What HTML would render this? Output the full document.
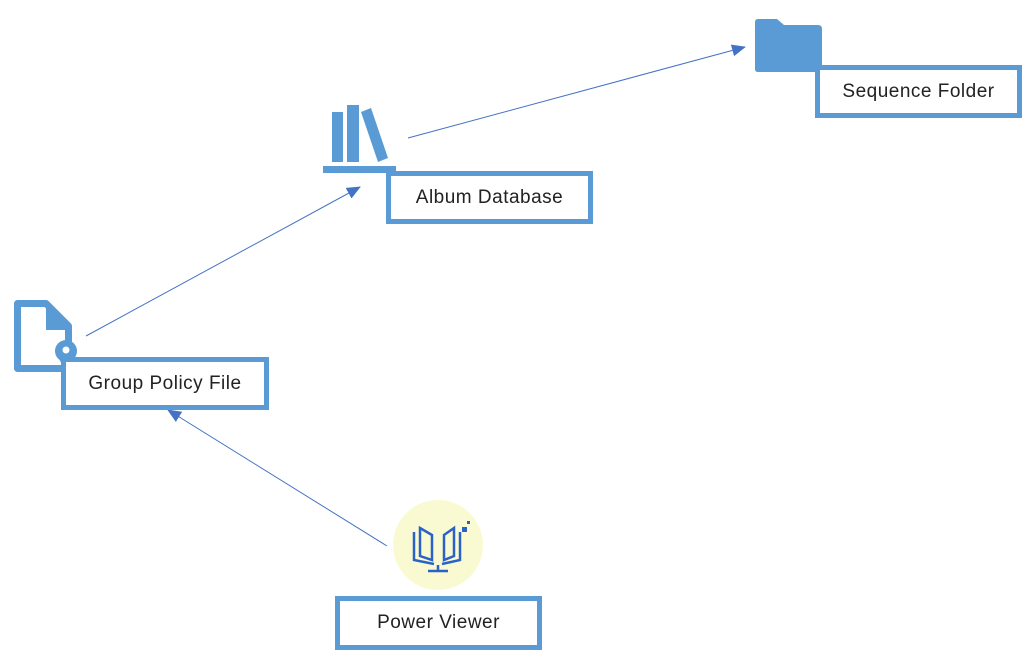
<!DOCTYPE html>
<html><head><meta charset="utf-8"><style>
html,body{margin:0;padding:0;background:#fff;width:1024px;height:650px;overflow:hidden}
.box{position:absolute;box-sizing:border-box;border:5px solid #5b9bd5;background:#fff;font-family:"Liberation Sans",sans-serif;font-size:19px;color:#222;display:flex;align-items:center;justify-content:center;letter-spacing:0.5px}
</style></head><body>
<svg width="1024" height="650" style="position:absolute;left:0;top:0">
<defs><marker id="a" markerWidth="14" markerHeight="12" refX="13" refY="6" orient="auto" markerUnits="userSpaceOnUse"><path d="M0,0 L14,6 L0,12 z" fill="#4472c4"/></marker></defs>
<g stroke="#4472c4" stroke-width="1" fill="none">
<line x1="86" y1="336" x2="360" y2="187" marker-end="url(#a)"/>
<line x1="408" y1="138" x2="745" y2="47" marker-end="url(#a)"/>
<line x1="387" y1="546" x2="168" y2="410" marker-end="url(#a)"/>
</g>
<path d="M17.5,303.5 H46 L68.5,326 V368.5 H17.5 Z" fill="none" stroke="#5b9bd5" stroke-width="7" stroke-linejoin="round"/>
<path d="M46,300 V330 H72 Z" fill="#5b9bd5"/>
<circle cx="66" cy="351" r="11" fill="#5b9bd5"/>
<path d="M58,357 L66,372 L74,357 Z" fill="#5b9bd5"/>
<circle cx="66" cy="350" r="3.5" fill="#fff"/>
<g fill="#5b9bd5">
<rect x="332" y="112" width="11" height="50"/>
<rect x="347" y="105" width="12" height="57"/>
<polygon points="361,112 371,108 388,158 378,162"/>
<rect x="323" y="166" width="73" height="7"/>
</g>
<path d="M758,19 H777 L784,25 H818 Q822,25 822,29 V72 H758 Q755,72 755,69 V22 Q755,19 758,19 Z" fill="#5b9bd5"/>
<circle cx="438" cy="545" r="45" fill="#fafad2"/>
<g fill="none" stroke="#2a62c9" stroke-width="2.5">
<path d="M414,532 V560 L434,564"/>
<path d="M420,528 L432,535 V560 L420,556 Z"/>
<path d="M460,532 V560 L442,564"/>
<path d="M454,528 L444,535 V560 L454,556 Z"/>
<line x1="438" y1="565" x2="438" y2="570"/>
<line x1="428" y1="571" x2="448" y2="571"/>
</g>
<rect x="462" y="527" width="5" height="5" fill="#2a62c9"/>
<rect x="467" y="521" width="3" height="3" fill="#2a62c9"/>
</svg>
<div class="box" style="left:61px;top:357px;width:208px;height:53px">Group Policy File</div>
<div class="box" style="left:386px;top:171px;width:207px;height:53px">Album Database</div>
<div class="box" style="left:815px;top:65px;width:207px;height:53px">Sequence Folder</div>
<div class="box" style="left:335px;top:596px;width:207px;height:54px">Power Viewer</div>
</body></html>
